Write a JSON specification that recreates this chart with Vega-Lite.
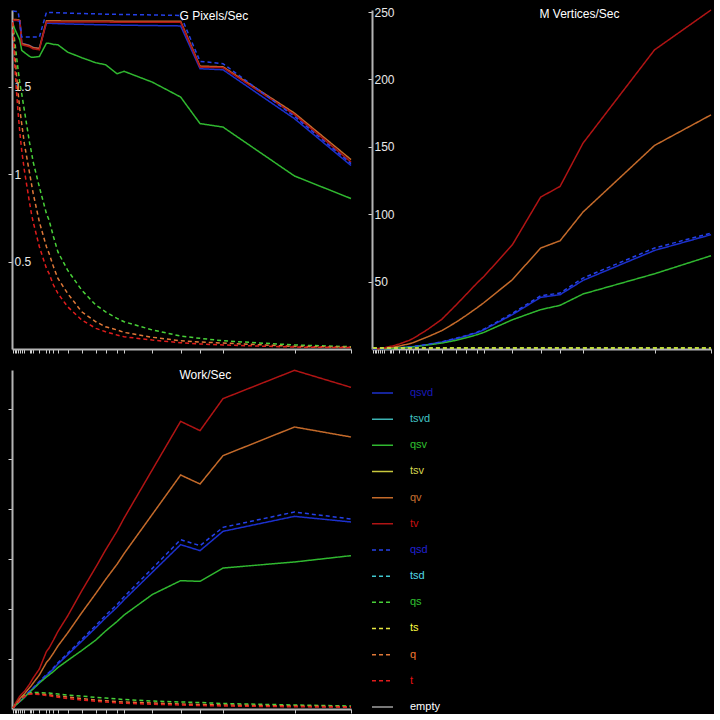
{
  "$schema": "https://vega.github.io/schema/vega-lite/v6.json",
  "background": "#000000",
  "padding": {"left": 7, "top": 6, "right": 0, "bottom": 0},
  "columns": 2,
  "spacing": 21,
  "bounds": "flush",
  "config": {
    "view": {"stroke": null},
    "font": "Liberation Sans",
    "axis": {
      "domainColor": "#b4b4b4", "domainWidth": 2,
      "tickColor": "#d0d0d0", "tickWidth": 1, "tickSize": 4,
      "labelColor": "#e8e8e8", "labelFont": "Liberation Sans", "labelFontSize": 12,
      "grid": false, "title": null, "zindex": 1
    },
    "title": {"color": "#ffffff", "font": "Liberation Sans", "fontSize": 12, "fontWeight": "normal", "anchor": "start", "baseline": "middle"}
  },
  "datasets": {
    "pixels": [
      {"series":"qsvd","x":1,"y":1.88},{"series":"qsvd","x":3,"y":1.88},{"series":"qsvd","x":5,"y":1.88},{"series":"qsvd","x":7,"y":1.878},{"series":"qsvd","x":9,"y":1.875},{"series":"qsvd","x":11,"y":1.75},{"series":"qsvd","x":14,"y":1.746},{"series":"qsvd","x":20,"y":1.737},{"series":"qsvd","x":22,"y":1.731},{"series":"qsvd","x":24,"y":1.726},{"series":"qsvd","x":31,"y":1.72},{"series":"qsvd","x":39,"y":1.865},{"series":"qsvd","x":42,"y":1.864},{"series":"qsvd","x":47,"y":1.863},{"series":"qsvd","x":52,"y":1.862},{"series":"qsvd","x":63,"y":1.86},{"series":"qsvd","x":79,"y":1.858},{"series":"qsvd","x":95,"y":1.856},{"series":"qsvd","x":106,"y":1.855},{"series":"qsvd","x":119,"y":1.854},{"series":"qsvd","x":127,"y":1.853},{"series":"qsvd","x":159,"y":1.851},{"series":"qsvd","x":191,"y":1.849},{"series":"qsvd","x":213,"y":1.604},{"series":"qsvd","x":239,"y":1.598},{"series":"qsvd","x":320,"y":1.318},{"series":"qsvd","x":384,"y":1.05},
      {"series":"qsv","x":1,"y":1.863},{"series":"qsv","x":3,"y":1.834},{"series":"qsv","x":5,"y":1.811},{"series":"qsv","x":7,"y":1.789},{"series":"qsv","x":9,"y":1.766},{"series":"qsv","x":11,"y":1.709},{"series":"qsv","x":14,"y":1.697},{"series":"qsv","x":20,"y":1.674},{"series":"qsv","x":22,"y":1.669},{"series":"qsv","x":24,"y":1.669},{"series":"qsv","x":31,"y":1.674},{"series":"qsv","x":39,"y":1.75},{"series":"qsv","x":42,"y":1.749},{"series":"qsv","x":47,"y":1.743},{"series":"qsv","x":52,"y":1.741},{"series":"qsv","x":63,"y":1.699},{"series":"qsv","x":79,"y":1.667},{"series":"qsv","x":95,"y":1.638},{"series":"qsv","x":106,"y":1.627},{"series":"qsv","x":119,"y":1.575},{"series":"qsv","x":127,"y":1.589},{"series":"qsv","x":159,"y":1.527},{"series":"qsv","x":191,"y":1.442},{"series":"qsv","x":213,"y":1.29},{"series":"qsv","x":239,"y":1.27},{"series":"qsv","x":320,"y":0.99},{"series":"qsv","x":384,"y":0.861},
      {"series":"qv","x":1,"y":1.886},{"series":"qv","x":3,"y":1.886},{"series":"qv","x":5,"y":1.885},{"series":"qv","x":7,"y":1.884},{"series":"qv","x":9,"y":1.88},{"series":"qv","x":11,"y":1.748},{"series":"qv","x":14,"y":1.744},{"series":"qv","x":20,"y":1.736},{"series":"qv","x":22,"y":1.73},{"series":"qv","x":24,"y":1.725},{"series":"qv","x":31,"y":1.72},{"series":"qv","x":39,"y":1.878},{"series":"qv","x":42,"y":1.878},{"series":"qv","x":47,"y":1.878},{"series":"qv","x":52,"y":1.878},{"series":"qv","x":63,"y":1.877},{"series":"qv","x":79,"y":1.877},{"series":"qv","x":95,"y":1.877},{"series":"qv","x":106,"y":1.877},{"series":"qv","x":119,"y":1.876},{"series":"qv","x":127,"y":1.876},{"series":"qv","x":159,"y":1.876},{"series":"qv","x":191,"y":1.876},{"series":"qv","x":213,"y":1.619},{"series":"qv","x":239,"y":1.615},{"series":"qv","x":320,"y":1.35},{"series":"qv","x":384,"y":1.084},
      {"series":"tv","x":1,"y":1.882},{"series":"tv","x":3,"y":1.882},{"series":"tv","x":5,"y":1.881},{"series":"tv","x":7,"y":1.88},{"series":"tv","x":9,"y":1.877},{"series":"tv","x":11,"y":1.742},{"series":"tv","x":14,"y":1.737},{"series":"tv","x":20,"y":1.729},{"series":"tv","x":22,"y":1.723},{"series":"tv","x":24,"y":1.718},{"series":"tv","x":31,"y":1.712},{"series":"tv","x":39,"y":1.872},{"series":"tv","x":42,"y":1.872},{"series":"tv","x":47,"y":1.872},{"series":"tv","x":52,"y":1.872},{"series":"tv","x":63,"y":1.871},{"series":"tv","x":79,"y":1.871},{"series":"tv","x":95,"y":1.871},{"series":"tv","x":106,"y":1.871},{"series":"tv","x":119,"y":1.87},{"series":"tv","x":127,"y":1.87},{"series":"tv","x":159,"y":1.87},{"series":"tv","x":191,"y":1.87},{"series":"tv","x":213,"y":1.613},{"series":"tv","x":239,"y":1.61},{"series":"tv","x":320,"y":1.341},{"series":"tv","x":384,"y":1.07},
      {"series":"qsd","x":1,"y":1.933},{"series":"qsd","x":3,"y":1.933},{"series":"qsd","x":5,"y":1.932},{"series":"qsd","x":7,"y":1.93},{"series":"qsd","x":9,"y":1.86},{"series":"qsd","x":11,"y":1.785},{"series":"qsd","x":14,"y":1.785},{"series":"qsd","x":20,"y":1.785},{"series":"qsd","x":22,"y":1.785},{"series":"qsd","x":24,"y":1.785},{"series":"qsd","x":31,"y":1.785},{"series":"qsd","x":39,"y":1.927},{"series":"qsd","x":42,"y":1.926},{"series":"qsd","x":47,"y":1.925},{"series":"qsd","x":52,"y":1.924},{"series":"qsd","x":63,"y":1.922},{"series":"qsd","x":79,"y":1.92},{"series":"qsd","x":95,"y":1.918},{"series":"qsd","x":106,"y":1.916},{"series":"qsd","x":119,"y":1.915},{"series":"qsd","x":127,"y":1.914},{"series":"qsd","x":159,"y":1.912},{"series":"qsd","x":191,"y":1.909},{"series":"qsd","x":213,"y":1.646},{"series":"qsd","x":239,"y":1.633},{"series":"qsd","x":320,"y":1.331},{"series":"qsd","x":384,"y":1.061},
      {"series":"qs","x":1,"y":1.863},{"series":"qs","x":3,"y":1.766},{"series":"qs","x":5,"y":1.68},{"series":"qs","x":7,"y":1.594},{"series":"qs","x":9,"y":1.518},{"series":"qs","x":11,"y":1.461},{"series":"qs","x":14,"y":1.366},{"series":"qs","x":20,"y":1.177},{"series":"qs","x":22,"y":1.127},{"series":"qs","x":24,"y":1.07},{"series":"qs","x":31,"y":0.927},{"series":"qs","x":39,"y":0.775},{"series":"qs","x":42,"y":0.737},{"series":"qs","x":47,"y":0.642},{"series":"qs","x":52,"y":0.556},{"series":"qs","x":63,"y":0.451},{"series":"qs","x":79,"y":0.337},{"series":"qs","x":95,"y":0.251},{"series":"qs","x":106,"y":0.213},{"series":"qs","x":119,"y":0.175},{"series":"qs","x":127,"y":0.156},{"series":"qs","x":159,"y":0.109},{"series":"qs","x":191,"y":0.074},{"series":"qs","x":213,"y":0.061},{"series":"qs","x":239,"y":0.047},{"series":"qs","x":320,"y":0.023},{"series":"qs","x":384,"y":0.013},
      {"series":"q","x":1,"y":1.863},{"series":"q","x":3,"y":1.709},{"series":"q","x":5,"y":1.575},{"series":"q","x":7,"y":1.461},{"series":"q","x":9,"y":1.366},{"series":"q","x":11,"y":1.29},{"series":"q","x":14,"y":1.175},{"series":"q","x":20,"y":1.004},{"series":"q","x":22,"y":0.947},{"series":"q","x":24,"y":0.89},{"series":"q","x":31,"y":0.727},{"series":"q","x":39,"y":0.585},{"series":"q","x":42,"y":0.547},{"series":"q","x":47,"y":0.47},{"series":"q","x":52,"y":0.404},{"series":"q","x":63,"y":0.318},{"series":"q","x":79,"y":0.213},{"series":"q","x":95,"y":0.156},{"series":"q","x":106,"y":0.127},{"series":"q","x":119,"y":0.109},{"series":"q","x":127,"y":0.095},{"series":"q","x":159,"y":0.067},{"series":"q","x":191,"y":0.047},{"series":"q","x":213,"y":0.04},{"series":"q","x":239,"y":0.034},{"series":"q","x":320,"y":0.015},{"series":"q","x":384,"y":0.01},
      {"series":"t","x":1,"y":1.87},{"series":"t","x":3,"y":1.633},{"series":"t","x":5,"y":1.48},{"series":"t","x":7,"y":1.347},{"series":"t","x":9,"y":1.232},{"series":"t","x":11,"y":1.137},{"series":"t","x":14,"y":1.023},{"series":"t","x":20,"y":0.833},{"series":"t","x":22,"y":0.775},{"series":"t","x":24,"y":0.727},{"series":"t","x":31,"y":0.585},{"series":"t","x":39,"y":0.461},{"series":"t","x":42,"y":0.432},{"series":"t","x":47,"y":0.366},{"series":"t","x":52,"y":0.318},{"series":"t","x":63,"y":0.242},{"series":"t","x":79,"y":0.166},{"series":"t","x":95,"y":0.118},{"series":"t","x":106,"y":0.099},{"series":"t","x":119,"y":0.08},{"series":"t","x":127,"y":0.07},{"series":"t","x":159,"y":0.051},{"series":"t","x":191,"y":0.036},{"series":"t","x":213,"y":0.029},{"series":"t","x":239,"y":0.023},{"series":"t","x":320,"y":0.011},{"series":"t","x":384,"y":0.008}
    ],
    "vertices": [
      {"series":"qsvd","x":1,"y":0.01},{"series":"qsvd","x":3,"y":0.03},{"series":"qsvd","x":5,"y":0.06},{"series":"qsvd","x":7,"y":0.1},{"series":"qsvd","x":9,"y":0.12},{"series":"qsvd","x":11,"y":0.15},{"series":"qsvd","x":14,"y":0.2},{"series":"qsvd","x":20,"y":0.4},{"series":"qsvd","x":22,"y":0.45},{"series":"qsvd","x":24,"y":0.5},{"series":"qsvd","x":31,"y":0.8},{"series":"qsvd","x":39,"y":1.3},{"series":"qsvd","x":42,"y":1.5},{"series":"qsvd","x":47,"y":1.8},{"series":"qsvd","x":52,"y":2.3},{"series":"qsvd","x":63,"y":3.3},{"series":"qsvd","x":79,"y":5.1},{"series":"qsvd","x":95,"y":7.6},{"series":"qsvd","x":106,"y":9.5},{"series":"qsvd","x":119,"y":12.1},{"series":"qsvd","x":127,"y":14.3},{"series":"qsvd","x":159,"y":25.5},{"series":"qsvd","x":191,"y":38.3},{"series":"qsvd","x":213,"y":40.3},{"series":"qsvd","x":239,"y":50.9},{"series":"qsvd","x":320,"y":73.1},{"series":"qsvd","x":384,"y":84.8},
      {"series":"qsv","x":1,"y":0.01},{"series":"qsv","x":3,"y":0.03},{"series":"qsv","x":5,"y":0.05},{"series":"qsv","x":7,"y":0.08},{"series":"qsv","x":9,"y":0.1},{"series":"qsv","x":11,"y":0.13},{"series":"qsv","x":14,"y":0.18},{"series":"qsv","x":20,"y":0.35},{"series":"qsv","x":22,"y":0.4},{"series":"qsv","x":24,"y":0.45},{"series":"qsv","x":31,"y":0.75},{"series":"qsv","x":39,"y":1.2},{"series":"qsv","x":42,"y":1.4},{"series":"qsv","x":47,"y":1.6},{"series":"qsv","x":52,"y":2.0},{"series":"qsv","x":63,"y":3.0},{"series":"qsv","x":79,"y":4.4},{"series":"qsv","x":95,"y":6.4},{"series":"qsv","x":106,"y":8.2},{"series":"qsv","x":119,"y":10.6},{"series":"qsv","x":127,"y":12.4},{"series":"qsv","x":159,"y":21.7},{"series":"qsv","x":191,"y":29.2},{"series":"qsv","x":213,"y":32.4},{"series":"qsv","x":239,"y":40.8},{"series":"qsv","x":320,"y":55.8},{"series":"qsv","x":384,"y":69.2},
      {"series":"qv","x":1,"y":0.03},{"series":"qv","x":3,"y":0.07},{"series":"qv","x":5,"y":0.12},{"series":"qv","x":7,"y":0.2},{"series":"qv","x":9,"y":0.25},{"series":"qv","x":11,"y":0.35},{"series":"qv","x":14,"y":0.45},{"series":"qv","x":20,"y":1.0},{"series":"qv","x":22,"y":1.15},{"series":"qv","x":24,"y":1.35},{"series":"qv","x":31,"y":2.2},{"series":"qv","x":39,"y":3.4},{"series":"qv","x":42,"y":3.8},{"series":"qv","x":47,"y":4.8},{"series":"qv","x":52,"y":6.1},{"series":"qv","x":63,"y":9.0},{"series":"qv","x":79,"y":13.6},{"series":"qv","x":95,"y":19.8},{"series":"qv","x":106,"y":24.6},{"series":"qv","x":119,"y":30.6},{"series":"qv","x":127,"y":34.5},{"series":"qv","x":159,"y":51.4},{"series":"qv","x":191,"y":74.9},{"series":"qv","x":213,"y":80.3},{"series":"qv","x":239,"y":101.6},{"series":"qv","x":320,"y":151},{"series":"qv","x":384,"y":173.7},
      {"series":"tv","x":1,"y":0.04},{"series":"tv","x":3,"y":0.1},{"series":"tv","x":5,"y":0.2},{"series":"tv","x":7,"y":0.32},{"series":"tv","x":9,"y":0.45},{"series":"tv","x":11,"y":0.6},{"series":"tv","x":14,"y":0.9},{"series":"tv","x":20,"y":1.8},{"series":"tv","x":22,"y":2.1},{"series":"tv","x":24,"y":2.4},{"series":"tv","x":31,"y":3.7},{"series":"tv","x":39,"y":5.7},{"series":"tv","x":42,"y":6.3},{"series":"tv","x":47,"y":8},{"series":"tv","x":52,"y":10},{"series":"tv","x":63,"y":14.5},{"series":"tv","x":79,"y":22},{"series":"tv","x":95,"y":32.5},{"series":"tv","x":106,"y":40},{"series":"tv","x":119,"y":49},{"series":"tv","x":127,"y":54},{"series":"tv","x":159,"y":77.3},{"series":"tv","x":191,"y":112.7},{"series":"tv","x":213,"y":120.6},{"series":"tv","x":239,"y":152.7},{"series":"tv","x":320,"y":221.9},{"series":"tv","x":384,"y":251.5},
      {"series":"qsd","x":1,"y":0.01},{"series":"qsd","x":3,"y":0.03},{"series":"qsd","x":5,"y":0.06},{"series":"qsd","x":7,"y":0.1},{"series":"qsd","x":9,"y":0.12},{"series":"qsd","x":11,"y":0.16},{"series":"qsd","x":14,"y":0.21},{"series":"qsd","x":20,"y":0.42},{"series":"qsd","x":22,"y":0.47},{"series":"qsd","x":24,"y":0.52},{"series":"qsd","x":31,"y":0.83},{"series":"qsd","x":39,"y":1.35},{"series":"qsd","x":42,"y":1.55},{"series":"qsd","x":47,"y":1.87},{"series":"qsd","x":52,"y":2.4},{"series":"qsd","x":63,"y":3.4},{"series":"qsd","x":79,"y":5.3},{"series":"qsd","x":95,"y":7.9},{"series":"qsd","x":106,"y":9.8},{"series":"qsd","x":119,"y":12.5},{"series":"qsd","x":127,"y":14.8},{"series":"qsd","x":159,"y":26.4},{"series":"qsd","x":191,"y":39.5},{"series":"qsd","x":213,"y":41.5},{"series":"qsd","x":239,"y":52.6},{"series":"qsd","x":320,"y":74.9},{"series":"qsd","x":384,"y":86.0},
      {"series":"qs","x":1,"y":0.8},{"series":"qs","x":3,"y":0.8},{"series":"qs","x":5,"y":0.8},{"series":"qs","x":7,"y":0.8},{"series":"qs","x":9,"y":0.8},{"series":"qs","x":11,"y":0.8},{"series":"qs","x":14,"y":0.8},{"series":"qs","x":20,"y":0.8},{"series":"qs","x":22,"y":0.8},{"series":"qs","x":24,"y":0.8},{"series":"qs","x":31,"y":0.8},{"series":"qs","x":39,"y":0.8},{"series":"qs","x":42,"y":0.8},{"series":"qs","x":47,"y":0.8},{"series":"qs","x":52,"y":0.8},{"series":"qs","x":63,"y":0.8},{"series":"qs","x":79,"y":0.8},{"series":"qs","x":95,"y":0.8},{"series":"qs","x":106,"y":0.8},{"series":"qs","x":119,"y":0.8},{"series":"qs","x":127,"y":0.8},{"series":"qs","x":159,"y":0.8},{"series":"qs","x":191,"y":0.8},{"series":"qs","x":213,"y":0.8},{"series":"qs","x":239,"y":0.8},{"series":"qs","x":320,"y":0.8},{"series":"qs","x":384,"y":0.8},
      {"series":"ts","x":1,"y":0.7},{"series":"ts","x":3,"y":0.7},{"series":"ts","x":5,"y":0.7},{"series":"ts","x":7,"y":0.7},{"series":"ts","x":9,"y":0.7},{"series":"ts","x":11,"y":0.7},{"series":"ts","x":14,"y":0.7},{"series":"ts","x":20,"y":0.7},{"series":"ts","x":22,"y":0.7},{"series":"ts","x":24,"y":0.7},{"series":"ts","x":31,"y":0.7},{"series":"ts","x":39,"y":0.7},{"series":"ts","x":42,"y":0.7},{"series":"ts","x":47,"y":0.7},{"series":"ts","x":52,"y":0.7},{"series":"ts","x":63,"y":0.7},{"series":"ts","x":79,"y":0.7},{"series":"ts","x":95,"y":0.7},{"series":"ts","x":106,"y":0.7},{"series":"ts","x":119,"y":0.7},{"series":"ts","x":127,"y":0.7},{"series":"ts","x":159,"y":0.7},{"series":"ts","x":191,"y":0.7},{"series":"ts","x":213,"y":0.7},{"series":"ts","x":239,"y":0.7},{"series":"ts","x":320,"y":0.7},{"series":"ts","x":384,"y":0.7}
    ],
    "work": [
      {"series":"qsvd","x":1,"y":0.02},{"series":"qsvd","x":3,"y":0.06},{"series":"qsvd","x":5,"y":0.093},{"series":"qsvd","x":7,"y":0.123},{"series":"qsvd","x":9,"y":0.156},{"series":"qsvd","x":11,"y":0.189},{"series":"qsvd","x":14,"y":0.24},{"series":"qsvd","x":20,"y":0.351},{"series":"qsvd","x":22,"y":0.383},{"series":"qsvd","x":24,"y":0.415},{"series":"qsvd","x":31,"y":0.533},{"series":"qsvd","x":39,"y":0.673},{"series":"qsvd","x":42,"y":0.713},{"series":"qsvd","x":47,"y":0.804},{"series":"qsvd","x":52,"y":0.901},{"series":"qsvd","x":63,"y":1.083},{"series":"qsvd","x":79,"y":1.355},{"series":"qsvd","x":95,"y":1.627},{"series":"qsvd","x":106,"y":1.821},{"series":"qsvd","x":119,"y":2.035},{"series":"qsvd","x":127,"y":2.184},{"series":"qsvd","x":159,"y":2.735},{"series":"qsvd","x":191,"y":3.287},{"series":"qsvd","x":213,"y":3.167},{"series":"qsvd","x":239,"y":3.553},{"series":"qsvd","x":320,"y":3.853},{"series":"qsvd","x":384,"y":3.74},
      {"series":"qsv","x":1,"y":0.02},{"series":"qsv","x":3,"y":0.06},{"series":"qsv","x":5,"y":0.09},{"series":"qsv","x":7,"y":0.12},{"series":"qsv","x":9,"y":0.15},{"series":"qsv","x":11,"y":0.18},{"series":"qsv","x":14,"y":0.23},{"series":"qsv","x":20,"y":0.34},{"series":"qsv","x":22,"y":0.37},{"series":"qsv","x":24,"y":0.4},{"series":"qsv","x":31,"y":0.52},{"series":"qsv","x":39,"y":0.64},{"series":"qsv","x":42,"y":0.68},{"series":"qsv","x":47,"y":0.75},{"series":"qsv","x":52,"y":0.83},{"series":"qsv","x":63,"y":0.97},{"series":"qsv","x":79,"y":1.17},{"series":"qsv","x":95,"y":1.38},{"series":"qsv","x":106,"y":1.56},{"series":"qsv","x":119,"y":1.75},{"series":"qsv","x":127,"y":1.88},{"series":"qsv","x":159,"y":2.29},{"series":"qsv","x":191,"y":2.567},{"series":"qsv","x":213,"y":2.553},{"series":"qsv","x":239,"y":2.82},{"series":"qsv","x":320,"y":2.94},{"series":"qsv","x":384,"y":3.067},
      {"series":"qv","x":1,"y":0.02},{"series":"qv","x":3,"y":0.075},{"series":"qv","x":5,"y":0.12},{"series":"qv","x":7,"y":0.17},{"series":"qv","x":9,"y":0.21},{"series":"qv","x":11,"y":0.25},{"series":"qv","x":14,"y":0.3},{"series":"qv","x":20,"y":0.43},{"series":"qv","x":22,"y":0.47},{"series":"qv","x":24,"y":0.52},{"series":"qv","x":31,"y":0.68},{"series":"qv","x":39,"y":0.93},{"series":"qv","x":42,"y":0.99},{"series":"qv","x":47,"y":1.12},{"series":"qv","x":52,"y":1.26},{"series":"qv","x":63,"y":1.52},{"series":"qv","x":79,"y":1.925},{"series":"qv","x":95,"y":2.313},{"series":"qv","x":106,"y":2.59},{"series":"qv","x":119,"y":2.896},{"series":"qv","x":127,"y":3.109},{"series":"qv","x":159,"y":3.895},{"series":"qv","x":191,"y":4.68},{"series":"qv","x":213,"y":4.5},{"series":"qv","x":239,"y":5.067},{"series":"qv","x":320,"y":5.64},{"series":"qv","x":384,"y":5.44},
      {"series":"tv","x":1,"y":0.02},{"series":"tv","x":3,"y":0.087},{"series":"tv","x":5,"y":0.147},{"series":"tv","x":7,"y":0.207},{"series":"tv","x":9,"y":0.26},{"series":"tv","x":11,"y":0.3},{"series":"tv","x":14,"y":0.35},{"series":"tv","x":20,"y":0.5},{"series":"tv","x":22,"y":0.56},{"series":"tv","x":24,"y":0.62},{"series":"tv","x":31,"y":0.8},{"series":"tv","x":39,"y":1.15},{"series":"tv","x":42,"y":1.22},{"series":"tv","x":47,"y":1.38},{"series":"tv","x":52,"y":1.55},{"series":"tv","x":63,"y":1.86},{"series":"tv","x":79,"y":2.363},{"series":"tv","x":95,"y":2.84},{"series":"tv","x":106,"y":3.18},{"series":"tv","x":119,"y":3.557},{"series":"tv","x":127,"y":3.82},{"series":"tv","x":159,"y":4.787},{"series":"tv","x":191,"y":5.753},{"series":"tv","x":213,"y":5.567},{"series":"tv","x":239,"y":6.207},{"series":"tv","x":320,"y":6.773},{"series":"tv","x":384,"y":6.433},
      {"series":"qsd","x":1,"y":0.02},{"series":"qsd","x":3,"y":0.06},{"series":"qsd","x":5,"y":0.095},{"series":"qsd","x":7,"y":0.126},{"series":"qsd","x":9,"y":0.16},{"series":"qsd","x":11,"y":0.194},{"series":"qsd","x":14,"y":0.246},{"series":"qsd","x":20,"y":0.36},{"series":"qsd","x":22,"y":0.393},{"series":"qsd","x":24,"y":0.426},{"series":"qsd","x":31,"y":0.547},{"series":"qsd","x":39,"y":0.69},{"series":"qsd","x":42,"y":0.732},{"series":"qsd","x":47,"y":0.825},{"series":"qsd","x":52,"y":0.925},{"series":"qsd","x":63,"y":1.112},{"series":"qsd","x":79,"y":1.392},{"series":"qsd","x":95,"y":1.672},{"series":"qsd","x":106,"y":1.872},{"series":"qsd","x":119,"y":2.092},{"series":"qsd","x":127,"y":2.245},{"series":"qsd","x":159,"y":2.812},{"series":"qsd","x":191,"y":3.387},{"series":"qsd","x":213,"y":3.267},{"series":"qsd","x":239,"y":3.633},{"series":"qsd","x":320,"y":3.94},{"series":"qsd","x":384,"y":3.8},
      {"series":"qs","x":1,"y":0.02},{"series":"qs","x":3,"y":0.07},{"series":"qs","x":5,"y":0.11},{"series":"qs","x":7,"y":0.15},{"series":"qs","x":9,"y":0.19},{"series":"qs","x":11,"y":0.22},{"series":"qs","x":14,"y":0.27},{"series":"qs","x":20,"y":0.32},{"series":"qs","x":22,"y":0.33},{"series":"qs","x":24,"y":0.33},{"series":"qs","x":31,"y":0.33},{"series":"qs","x":39,"y":0.32},{"series":"qs","x":42,"y":0.32},{"series":"qs","x":47,"y":0.31},{"series":"qs","x":52,"y":0.3},{"series":"qs","x":63,"y":0.28},{"series":"qs","x":79,"y":0.26},{"series":"qs","x":95,"y":0.23},{"series":"qs","x":106,"y":0.22},{"series":"qs","x":119,"y":0.2},{"series":"qs","x":127,"y":0.19},{"series":"qs","x":159,"y":0.16},{"series":"qs","x":191,"y":0.14},{"series":"qs","x":213,"y":0.13},{"series":"qs","x":239,"y":0.11},{"series":"qs","x":320,"y":0.08},{"series":"qs","x":384,"y":0.06},
      {"series":"q","x":1,"y":0.02},{"series":"q","x":3,"y":0.06},{"series":"q","x":5,"y":0.1},{"series":"q","x":7,"y":0.14},{"series":"q","x":9,"y":0.18},{"series":"q","x":11,"y":0.21},{"series":"q","x":14,"y":0.26},{"series":"q","x":20,"y":0.3},{"series":"q","x":22,"y":0.31},{"series":"q","x":24,"y":0.31},{"series":"q","x":31,"y":0.3},{"series":"q","x":39,"y":0.29},{"series":"q","x":42,"y":0.285},{"series":"q","x":47,"y":0.27},{"series":"q","x":52,"y":0.26},{"series":"q","x":63,"y":0.24},{"series":"q","x":79,"y":0.21},{"series":"q","x":95,"y":0.18},{"series":"q","x":106,"y":0.165},{"series":"q","x":119,"y":0.15},{"series":"q","x":127,"y":0.14},{"series":"q","x":159,"y":0.12},{"series":"q","x":191,"y":0.1},{"series":"q","x":213,"y":0.09},{"series":"q","x":239,"y":0.08},{"series":"q","x":320,"y":0.06},{"series":"q","x":384,"y":0.045},
      {"series":"t","x":1,"y":0.02},{"series":"t","x":3,"y":0.06},{"series":"t","x":5,"y":0.1},{"series":"t","x":7,"y":0.14},{"series":"t","x":9,"y":0.18},{"series":"t","x":11,"y":0.21},{"series":"t","x":14,"y":0.25},{"series":"t","x":20,"y":0.3},{"series":"t","x":22,"y":0.3},{"series":"t","x":24,"y":0.3},{"series":"t","x":31,"y":0.29},{"series":"t","x":39,"y":0.27},{"series":"t","x":42,"y":0.265},{"series":"t","x":47,"y":0.25},{"series":"t","x":52,"y":0.235},{"series":"t","x":63,"y":0.21},{"series":"t","x":79,"y":0.18},{"series":"t","x":95,"y":0.155},{"series":"t","x":106,"y":0.14},{"series":"t","x":119,"y":0.125},{"series":"t","x":127,"y":0.115},{"series":"t","x":159,"y":0.095},{"series":"t","x":191,"y":0.08},{"series":"t","x":213,"y":0.07},{"series":"t","x":239,"y":0.06},{"series":"t","x":320,"y":0.045},{"series":"t","x":384,"y":0.035}
    ],
    "legend": [
      {"series":"qsvd"},{"series":"tsvd"},{"series":"qsv"},{"series":"tsv"},{"series":"qv"},{"series":"tv"},
      {"series":"qsd"},{"series":"tsd"},{"series":"qs"},{"series":"ts"},{"series":"q"},{"series":"t"},{"series":"empty"}
    ]
  },
  "concat": [
    {
      "width": 339, "height": 339,
      "data": {"name": "pixels"},
      "title": {"text": "G Pixels/Sec", "dx": 172, "offset": -15},
      "mark": {"type": "line", "strokeWidth": 1.5},
      "encoding": {
        "x": {"field": "x", "type": "quantitative", "scale": {"domain": [0, 384], "nice": false, "zero": false},
              "axis": {"values": [1,3,5,7,9,11,14,20,22,24,31,39,42,47,52,63,79,95,106,119,127,159,191,213,239,320,384], "labels": false}},
        "y": {"field": "y", "type": "quantitative", "scale": {"domain": [0, 1.94], "nice": false},
              "axis": {"values": [0.5, 1, 1.5], "format": "~g", "labelAlign": "left", "labelBaseline": "middle", "labelPadding": -6, "labelOverlap": false}},
        "color": {"field": "series", "type": "nominal", "legend": null,
                  "scale": {"domain": ["qsvd","tsvd","qsv","tsv","qv","tv","qsd","tsd","qs","ts","q","t","empty"],
                            "range": ["#1c30cc","#3cb4b4","#30b830","#c8c83c","#c46a2a","#b01414","#2440e8","#40c8d0","#48d038","#e8e840","#e07838","#e01c1c","#a0a0a0"]}},
        "strokeDash": {"field": "series", "type": "nominal", "legend": null,
                  "scale": {"domain": ["qsvd","tsvd","qsv","tsv","qv","tv","qsd","tsd","qs","ts","q","t","empty"],
                            "range": [[1,0],[1,0],[1,0],[1,0],[1,0],[1,0],[4,3],[4,3],[4,3],[4,3],[4,3],[4,3],[1,0]]}}
      }
    },
    {
      "width": 339, "height": 339,
      "data": {"name": "vertices"},
      "title": {"text": "M Vertices/Sec", "dx": 172, "offset": -15},
      "mark": {"type": "line", "strokeWidth": 1.5},
      "encoding": {
        "x": {"field": "x", "type": "quantitative", "scale": {"domain": [0, 384], "nice": false, "zero": false},
              "axis": {"values": [1,3,5,7,9,11,14,20,22,24,31,39,42,47,52,63,79,95,106,119,127,159,191,213,239,320,384], "labels": false}},
        "y": {"field": "y", "type": "quantitative", "scale": {"domain": [0, 251.5], "nice": false},
              "axis": {"values": [50, 100, 150, 200, 250], "format": "d", "labelAlign": "left", "labelBaseline": "middle", "labelPadding": -6, "labelOverlap": false}},
        "color": {"field": "series", "type": "nominal", "legend": null,
                  "scale": {"domain": ["qsvd","tsvd","qsv","tsv","qv","tv","qsd","tsd","qs","ts","q","t","empty"],
                            "range": ["#1c30cc","#3cb4b4","#30b830","#c8c83c","#c46a2a","#b01414","#2440e8","#40c8d0","#48d038","#e8e840","#e07838","#e01c1c","#a0a0a0"]}},
        "strokeDash": {"field": "series", "type": "nominal", "legend": null,
                  "scale": {"domain": ["qsvd","tsvd","qsv","tsv","qv","tv","qsd","tsd","qs","ts","q","t","empty"],
                            "range": [[1,0],[1,0],[1,0],[1,0],[1,0],[1,0],[4,3],[4,3],[4,3],[4,3],[4,3],[4,3],[1,0]]}}
      }
    },
    {
      "width": 339, "height": 339,
      "data": {"name": "work"},
      "title": {"text": "Work/Sec", "dx": 172, "offset": -15},
      "mark": {"type": "line", "strokeWidth": 1.5},
      "encoding": {
        "x": {"field": "x", "type": "quantitative", "scale": {"domain": [0, 384], "nice": false, "zero": false},
              "axis": {"values": [1,3,5,7,9,11,14,20,22,24,31,39,42,47,52,63,79,95,106,119,127,159,191,213,239,320,384], "labels": false}},
        "y": {"field": "y", "type": "quantitative", "scale": {"domain": [0, 6.78], "nice": false},
              "axis": {"values": [1, 2, 3, 4, 5, 6], "labels": false}},
        "color": {"field": "series", "type": "nominal", "legend": null,
                  "scale": {"domain": ["qsvd","tsvd","qsv","tsv","qv","tv","qsd","tsd","qs","ts","q","t","empty"],
                            "range": ["#1c30cc","#3cb4b4","#30b830","#c8c83c","#c46a2a","#b01414","#2440e8","#40c8d0","#48d038","#e8e840","#e07838","#e01c1c","#a0a0a0"]}},
        "strokeDash": {"field": "series", "type": "nominal", "legend": null,
                  "scale": {"domain": ["qsvd","tsvd","qsv","tsv","qv","tv","qsd","tsd","qs","ts","q","t","empty"],
                            "range": [[1,0],[1,0],[1,0],[1,0],[1,0],[1,0],[4,3],[4,3],[4,3],[4,3],[4,3],[4,3],[1,0]]}}
      }
    },
    {
      "width": 339, "height": 339,
      "data": {"name": "legend"},
      "encoding": {
        "y": {"field": "series", "type": "nominal", "axis": null,
              "sort": ["qsvd","tsvd","qsv","tsv","qv","tv","qsd","tsd","qs","ts","q","t","empty"],
              "scale": {"type": "point", "padding": 0.477, "align": 0.92}}
      },
      "layer": [
        {
          "mark": {"type": "rule", "strokeWidth": 1.5},
          "encoding": {
            "x": {"datum": 0, "type": "quantitative", "scale": {"domain": [0, 339], "nice": false}, "axis": null},
            "x2": {"datum": 21},
            "color": {"field": "series", "type": "nominal", "legend": null,
                      "scale": {"domain": ["qsvd","tsvd","qsv","tsv","qv","tv","qsd","tsd","qs","ts","q","t","empty"],
                                "range": ["#1c30cc","#3cb4b4","#30b830","#c8c83c","#c46a2a","#b01414","#2440e8","#40c8d0","#48d038","#e8e840","#e07838","#e01c1c","#a0a0a0"]}},
            "strokeDash": {"field": "series", "type": "nominal", "legend": null,
                      "scale": {"domain": ["qsvd","tsvd","qsv","tsv","qv","tv","qsd","tsd","qs","ts","q","t","empty"],
                                "range": [[1,0],[1,0],[1,0],[1,0],[1,0],[1,0],[4,3],[4,3],[4,3],[4,3],[4,3],[4,3],[1,0]]}}
          }
        },
        {
          "mark": {"type": "text", "align": "left", "baseline": "middle", "fontSize": 11, "font": "Liberation Sans"},
          "encoding": {
            "x": {"datum": 38, "type": "quantitative"},
            "text": {"field": "series"},
            "fill": {"field": "series", "type": "nominal", "legend": null,
                     "scale": {"domain": ["qsvd","tsvd","qsv","tsv","qv","tv","qsd","tsd","qs","ts","q","t","empty"],
                               "range": ["#1a1ab8","#40c4c4","#30c030","#d8d850","#c87030","#c81010","#2020d0","#50d8e8","#30c030","#ffff40","#f07830","#e81010","#ffffff"]}}
          }
        }
      ]
    }
  ]
}
